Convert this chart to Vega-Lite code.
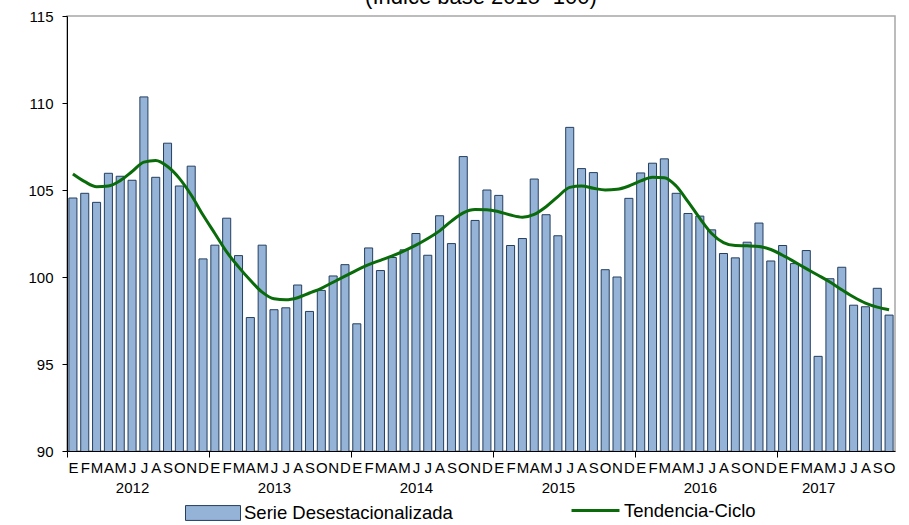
{
  "$schema": "https://vega.github.io/schema/vega-lite/v6.json",
  "width": 828,
  "height": 435,
  "autosize": {"type": "none"},
  "padding": {"left": 67, "top": 16, "right": 14, "bottom": 74},
  "background": "white",
  "title": {"text": "(Índice base 2015=100)", "fontSize": 22, "font": "Liberation Sans", "fontWeight": "normal", "color": "black", "anchor": "middle", "baseline": "alphabetic", "offset": 0, "dy": 17},
  "data": {"values": [
    {"t": "2012-01", "v": 104.54, "c": 105.92},
    {"t": "2012-02", "v": 104.81, "c": 105.48},
    {"t": "2012-03", "v": 104.29, "c": 105.19},
    {"t": "2012-04", "v": 105.96, "c": 105.23},
    {"t": "2012-05", "v": 105.79, "c": 105.54},
    {"t": "2012-06", "v": 105.56, "c": 106.06},
    {"t": "2012-07", "v": 110.35, "c": 106.6},
    {"t": "2012-08", "v": 105.73, "c": 106.69},
    {"t": "2012-09", "v": 107.69, "c": 106.35},
    {"t": "2012-10", "v": 105.23, "c": 105.67},
    {"t": "2012-11", "v": 106.37, "c": 104.71},
    {"t": "2012-12", "v": 101.04, "c": 103.56},
    {"t": "2013-01", "v": 101.83, "c": 102.5},
    {"t": "2013-02", "v": 103.38, "c": 101.44},
    {"t": "2013-03", "v": 101.23, "c": 100.58},
    {"t": "2013-04", "v": 97.67, "c": 99.81},
    {"t": "2013-05", "v": 101.83, "c": 99.13},
    {"t": "2013-06", "v": 98.12, "c": 98.75},
    {"t": "2013-07", "v": 98.23, "c": 98.69},
    {"t": "2013-08", "v": 99.54, "c": 98.81},
    {"t": "2013-09", "v": 98.02, "c": 99.08},
    {"t": "2013-10", "v": 99.23, "c": 99.35},
    {"t": "2013-11", "v": 100.06, "c": 99.7},
    {"t": "2013-12", "v": 100.71, "c": 100.05},
    {"t": "2014-01", "v": 97.31, "c": 100.4},
    {"t": "2014-02", "v": 101.67, "c": 100.71},
    {"t": "2014-03", "v": 100.37, "c": 100.96},
    {"t": "2014-04", "v": 101.12, "c": 101.21},
    {"t": "2014-05", "v": 101.56, "c": 101.5},
    {"t": "2014-06", "v": 102.5, "c": 101.83},
    {"t": "2014-07", "v": 101.25, "c": 102.21},
    {"t": "2014-08", "v": 103.52, "c": 102.65},
    {"t": "2014-09", "v": 101.92, "c": 103.21},
    {"t": "2014-10", "v": 106.92, "c": 103.69},
    {"t": "2014-11", "v": 103.25, "c": 103.88},
    {"t": "2014-12", "v": 105.0, "c": 103.87},
    {"t": "2015-01", "v": 104.69, "c": 103.75},
    {"t": "2015-02", "v": 101.81, "c": 103.56},
    {"t": "2015-03", "v": 102.21, "c": 103.44},
    {"t": "2015-04", "v": 105.63, "c": 103.6},
    {"t": "2015-05", "v": 103.58, "c": 104.04},
    {"t": "2015-06", "v": 102.37, "c": 104.62},
    {"t": "2015-07", "v": 108.6, "c": 105.15},
    {"t": "2015-08", "v": 106.23, "c": 105.23},
    {"t": "2015-09", "v": 106.0, "c": 105.1},
    {"t": "2015-10", "v": 100.42, "c": 105.0},
    {"t": "2015-11", "v": 100.0, "c": 105.04},
    {"t": "2015-12", "v": 104.52, "c": 105.23},
    {"t": "2016-01", "v": 105.98, "c": 105.52},
    {"t": "2016-02", "v": 106.54, "c": 105.73},
    {"t": "2016-03", "v": 106.79, "c": 105.71},
    {"t": "2016-04", "v": 104.81, "c": 105.23},
    {"t": "2016-05", "v": 103.65, "c": 104.33},
    {"t": "2016-06", "v": 103.5, "c": 103.37},
    {"t": "2016-07", "v": 102.71, "c": 102.5},
    {"t": "2016-08", "v": 101.35, "c": 101.98},
    {"t": "2016-09", "v": 101.1, "c": 101.81},
    {"t": "2016-10", "v": 102.0, "c": 101.79},
    {"t": "2016-11", "v": 103.1, "c": 101.75},
    {"t": "2016-12", "v": 100.92, "c": 101.58},
    {"t": "2017-01", "v": 101.81, "c": 101.25},
    {"t": "2017-02", "v": 100.77, "c": 100.87},
    {"t": "2017-03", "v": 101.52, "c": 100.48},
    {"t": "2017-04", "v": 95.44, "c": 100.1},
    {"t": "2017-05", "v": 99.9, "c": 99.71},
    {"t": "2017-06", "v": 100.56, "c": 99.27},
    {"t": "2017-07", "v": 98.38, "c": 98.85},
    {"t": "2017-08", "v": 98.29, "c": 98.5},
    {"t": "2017-09", "v": 99.35, "c": 98.27},
    {"t": "2017-10", "v": 97.81, "c": 98.12}
  ]},
  "encoding": {
    "x": {
      "field": "t", "type": "nominal", "sort": null,
      "scale": {"paddingInner": 0.32, "paddingOuter": 0.16},
      "axis": {
        "title": null, "labelAngle": 0, "labelFontSize": 15, "labelFont": "Liberation Sans", "labelColor": "black",
        "domainColor": "black", "tickSize": 6, "tickOffset": -5.915, "labelOffset": 5.915,
        "tickColor": {"condition": {"test": "substring(datum.value,5,7)=='01'", "value": "black"}, "value": "transparent"},
        "labelPadding": 3, "labelLineHeight": 20, "labelBaseline": "top", "labelOverlap": false, "labelBound": false,
        "labelExpr": "[['E','F','M','A','M','J','J','A','S','O','N','D'][toNumber(substring(datum.value,5,7))-1], (substring(datum.value,5,7)=='06' && substring(datum.value,0,4)!='2017') ? '\u00a0\u00a0\u00a0'+substring(datum.value,0,4) : (datum.value=='2017-04' ? '2017' : '')]"
      }
    }
  },
  "layer": [
    {
      "mark": {"type": "bar", "stroke": "#243F60", "strokeWidth": 1, "clip": true},
      "encoding": {
        "y": {"field": "v", "type": "quantitative", "scale": {"domain": [90, 115], "nice": false, "zero": false},
          "axis": {"values": [90, 95, 100, 105, 110, 115], "title": null, "grid": false, "labelFontSize": 15, "labelFont": "Liberation Sans", "labelColor": "black", "tickColor": "black", "domainColor": "black", "tickSize": 5, "labelPadding": 9}},
        "fill": {"datum": "Serie Desestacionalizada", "scale": {"range": ["#95B3D7"]},
          "legend": {"title": null, "orient": "none", "legendX": 118, "legendY": 469, "padding": 0, "direction": "horizontal", "symbolType": "M-1,-0.27H1V0.27H-1Z", "symbolSize": 3025, "symbolStrokeColor": "#243F60", "symbolStrokeWidth": 1, "labelFontSize": 18.5, "labelFont": "Liberation Sans", "labelColor": "black", "labelLimit": 400, "labelOffset": 3}}
      }
    },
    {
      "mark": {"type": "line", "strokeWidth": 3, "interpolate": "monotone"},
      "encoding": {
        "y": {"field": "c", "type": "quantitative"},
        "stroke": {"datum": "Tendencia-Ciclo", "scale": {"range": ["#0A6B0A"]},
          "legend": {"title": null, "orient": "none", "legendX": 503, "legendY": 469, "padding": 0, "direction": "horizontal", "symbolType": "stroke", "symbolSize": 2300, "symbolStrokeWidth": 3, "labelFontSize": 18.5, "labelFont": "Liberation Sans", "labelColor": "black", "labelLimit": 400, "labelOffset": 3}}
      }
    }
  ],
  "config": {
    "view": {"stroke": "#A6A6A6", "strokeWidth": 1.5}
  }
}
